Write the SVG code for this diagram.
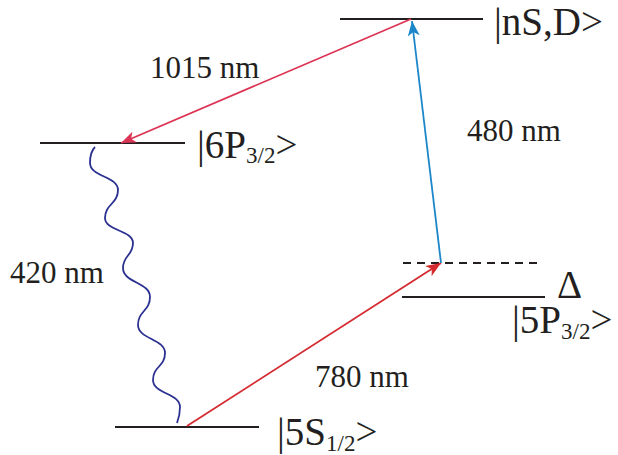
<svg xmlns="http://www.w3.org/2000/svg" width="618" height="455" viewBox="0 0 618 455">
<style>
.lvl{stroke:#231f20;stroke-width:2;fill:none}
.lbl{font-size:31px;fill:#231f20}
.st{font-size:39px;fill:#231f20}
.sub{font-size:23px}
</style>
<defs>
<marker id="ahRed" markerUnits="userSpaceOnUse" markerWidth="16" markerHeight="12" refX="15" refY="6" orient="auto"><path d="M0,0 L15,6 L0,12 L4,6 z" fill="#d42a30"/></marker>
<marker id="ahPink" markerUnits="userSpaceOnUse" markerWidth="16" markerHeight="12" refX="15" refY="6" orient="auto"><path d="M0,0 L15,6 L0,12 L4,6 z" fill="#dc3454"/></marker>
<marker id="ahBlue" markerUnits="userSpaceOnUse" markerWidth="16" markerHeight="12" refX="15" refY="6" orient="auto"><path d="M0,0 L15,6 L0,12 L4,6 z" fill="#1b87c9"/></marker>
</defs>
<g font-family="Liberation Serif, DejaVu Serif, serif">
<g id="level-nSD">
<line class="lvl" x1="340" y1="19" x2="483" y2="19"/>
<text class="st" x="494" y="35">|nS,D&gt;</text>
</g>
<g id="level-6P">
<line class="lvl" x1="40" y1="143" x2="185" y2="143"/>
<text class="st" x="197" y="158">|6P<tspan class="sub" dy="5">3/2</tspan><tspan dy="-5">&gt;</tspan></text>
</g>
<g id="level-5P">
<line class="lvl" x1="403" y1="263" x2="540" y2="263" stroke-dasharray="8 6"/>
<line class="lvl" x1="402" y1="297" x2="545" y2="297"/>
<text class="st" x="557" y="298">Δ</text>
<text class="st" x="512" y="333">|5P<tspan class="sub" dy="6">3/2</tspan><tspan dy="-6">&gt;</tspan></text>
</g>
<g id="level-5S">
<line class="lvl" x1="115" y1="427" x2="259" y2="427"/>
<text class="st" x="277" y="445">|5S<tspan class="sub" dy="6">1/2</tspan><tspan dy="-6">&gt;</tspan></text>
</g>
<g id="connectors" fill="none" stroke-width="1.8">
<line x1="187" y1="426" x2="441" y2="263" stroke="#d42a30" marker-end="url(#ahRed)"/>
<line x1="441" y1="263" x2="412" y2="21" stroke="#1b87c9" marker-end="url(#ahBlue)"/>
<line x1="411" y1="19" x2="121" y2="143" stroke="#dc3454" marker-end="url(#ahPink)"/>
<path d="M95,147 C91,151 90,157 90,163 C90,177 118,176 118,190 C118,204 105,204 105,218 C105,231 133,230 133,243 C133,256 123,255 123,268 C123,283 150,282 150,297 C150,311 138,311 138,325 C138,339 165,339 165,353 C165,367 153,366 153,380 C153,394 180,393 180,407 C180,413 179,418 177,423" stroke="#2b3190"/>
</g>
<g id="labels">
<text class="lbl" x="150" y="78">1015 nm</text>
<text class="lbl" x="467" y="141">480 nm</text>
<text class="lbl" x="10" y="283">420 nm</text>
<text class="lbl" x="315" y="387">780 nm</text>
</g>
</g>
</svg>
